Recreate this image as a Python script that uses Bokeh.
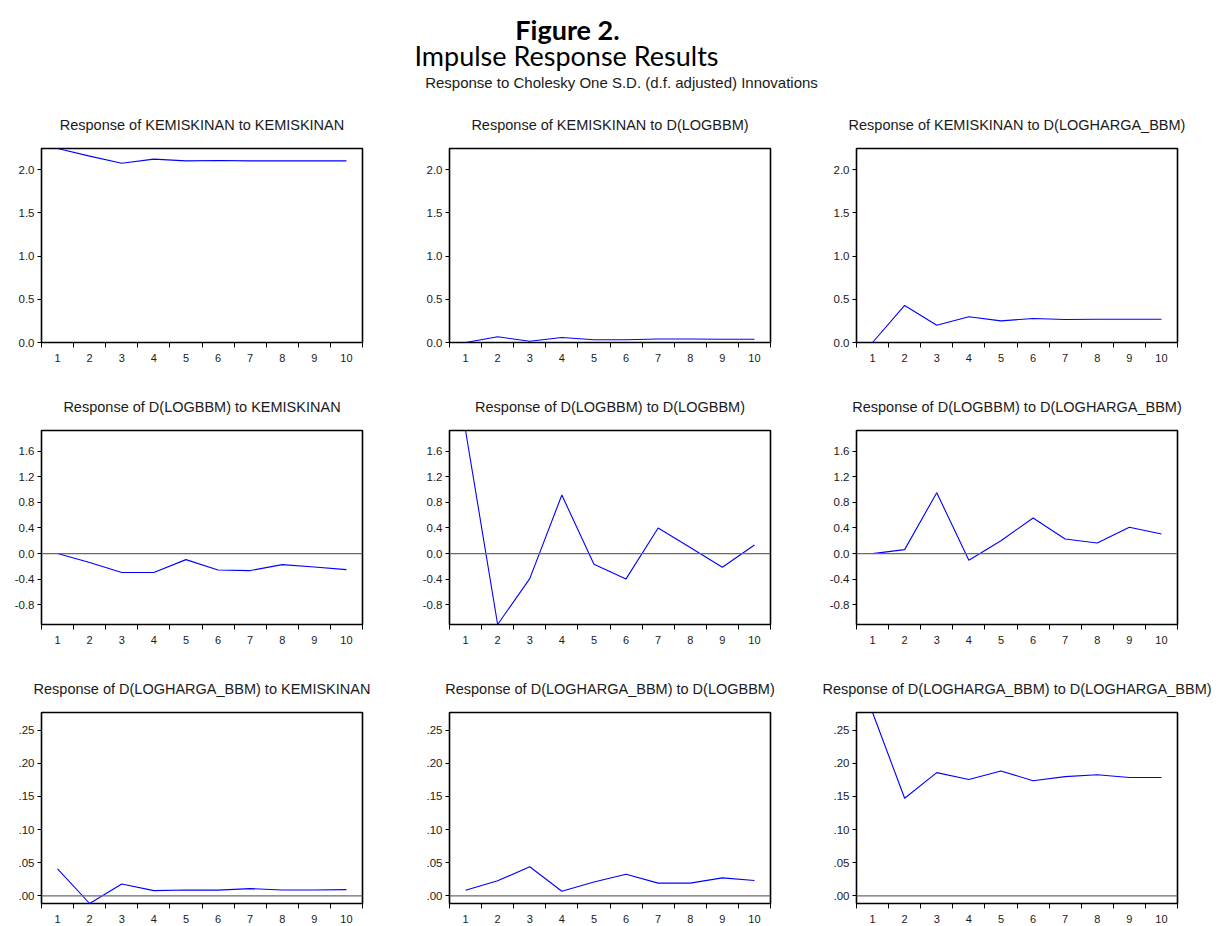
from bokeh.plotting import figure
from bokeh.models import Range1d, FixedTicker, Span, Label, LinearAxis
from bokeh.layouts import column, row
from bokeh.embed import file_html
from bokeh.resources import INLINE

periods = list(range(1, 11))

# Row 1: response of KEMISKINAN
kem_to_kem = [2.243, 2.155, 2.073, 2.12, 2.10, 2.105, 2.10, 2.10, 2.10, 2.10]
kem_to_logbbm = [0.0, 0.066, 0.015, 0.058, 0.031, 0.031, 0.04, 0.04, 0.037, 0.038]
kem_to_harga = [0.0, 0.428, 0.20, 0.297, 0.25, 0.277, 0.266, 0.268, 0.268, 0.268]

# Row 2: response of D(LOGBBM)
logbbm_to_kem = [0.0, -0.14, -0.296, -0.296, -0.094, -0.255, -0.265, -0.172, -0.21, -0.25]
logbbm_to_logbbm = [1.92, -1.106, -0.39, 0.913, -0.167, -0.395, 0.40, 0.095, -0.213, 0.134]
logbbm_to_harga = [0.0, 0.062, 0.95, -0.104, 0.20, 0.555, 0.227, 0.165, 0.41, 0.305]

# Row 3: response of D(LOGHARGA_BBM)
harga_to_kem = [0.041, -0.0114, 0.018, 0.008, 0.009, 0.0088, 0.011, 0.009, 0.009, 0.0095]
harga_to_logbbm = [0.0085, 0.0228, 0.044, 0.007, 0.021, 0.0327, 0.0193, 0.0193, 0.0272, 0.0233]
harga_to_harga = [0.2767, 0.1474, 0.186, 0.1757, 0.1886, 0.1738, 0.18, 0.1827, 0.1787, 0.1787]

titles = [
    ["Response of KEMISKINAN to KEMISKINAN", "Response of KEMISKINAN to D(LOGBBM)",
     "Response of KEMISKINAN to D(LOGHARGA_BBM)"],
    ["Response of D(LOGBBM) to KEMISKINAN", "Response of D(LOGBBM) to D(LOGBBM)",
     "Response of D(LOGBBM) to D(LOGHARGA_BBM)"],
    ["Response of D(LOGHARGA_BBM) to KEMISKINAN", "Response of D(LOGHARGA_BBM) to D(LOGBBM)",
     "Response of D(LOGHARGA_BBM) to D(LOGHARGA_BBM)"],
]
series = [
    [kem_to_kem, kem_to_logbbm, kem_to_harga],
    [logbbm_to_kem, logbbm_to_logbbm, logbbm_to_harga],
    [harga_to_kem, harga_to_logbbm, harga_to_harga],
]
y_ticks = [
    [0.0, 0.5, 1.0, 1.5, 2.0],
    [-0.8, -0.4, 0.0, 0.4, 0.8, 1.2, 1.6],
    [0.0, 0.05, 0.10, 0.15, 0.20, 0.25],
]
y_tick_labels = [
    ["0.0", "0.5", "1.0", "1.5", "2.0"],
    ["-0.8", "-0.4", "0.0", "0.4", "0.8", "1.2", "1.6"],
    [".00", ".05", ".10", ".15", ".20", ".25"],
]
zero_lines = [False, True, True]

main_title = "Figure 2."
sub_title = "Impulse Response Results"
caption = "Response to Cholesky One S.D. (d.f. adjusted) Innovations"

FONT = "Liberation Sans"
TOTAL_W = 1220
FRAME_W = 321
col_widths = [415, 407, 398]
col_left = [41, 34, 34]
col_right = [w - l - FRAME_W for w, l in zip(col_widths, col_left)]
STRIP_H = 36
TOP = 12
FRAME_H = 194
row_bottom = [40, 40, 19]
row_heights = [TOP + FRAME_H + b for b in row_bottom]
HEAD_H = 100


def text_strip(height):
    s = figure(width=TOTAL_W, height=height, x_range=Range1d(0, TOTAL_W),
               y_range=Range1d(0, height), x_axis_type=None, y_axis_type=None,
               output_backend="svg", toolbar_location=None, tools="",
               min_border=0, title=None)
    s.outline_line_color = None
    s.background_fill_color = "white"
    s.border_fill_color = "white"
    return s


def make_panel(r, c):
    vals = series[r]
    lo = min(min(v) for v in vals)
    hi = max(max(v) for v in vals)
    p = figure(width=col_widths[c], height=row_heights[r],
               x_range=Range1d(0.5, 10.5), y_range=Range1d(lo, hi),
               x_axis_type=None, y_axis_type=None, title=None,
               output_backend="svg", toolbar_location=None, tools="",
               min_border_left=col_left[c], min_border_right=col_right[c],
               min_border_top=TOP, min_border_bottom=row_bottom[r])
    p.background_fill_color = "white"
    p.border_fill_color = "white"
    p.outline_line_color = "black"
    p.outline_line_width = 1.6
    p.outline_line_alpha = 1.0

    boundaries = [k + 0.5 for k in range(0, 11)]
    xa = LinearAxis(ticker=FixedTicker(ticks=periods, minor_ticks=boundaries))
    xa.axis_line_color = None
    xa.major_tick_out = 0
    xa.major_tick_in = 0
    xa.minor_tick_out = 5
    xa.minor_tick_in = 0
    xa.minor_tick_line_color = "black"
    xa.major_label_standoff = 6
    xa.major_label_text_font = FONT
    xa.major_label_text_font_size = "11px"
    xa.major_label_text_color = "#1a1a1a"
    p.add_layout(xa, "below")

    ya = LinearAxis(ticker=FixedTicker(ticks=y_ticks[r], minor_ticks=[]))
    ya.major_label_overrides = {t: s for t, s in zip(y_ticks[r], y_tick_labels[r])}
    ya.axis_line_color = None
    ya.major_tick_out = 4
    ya.major_tick_in = 0
    ya.major_tick_line_color = "black"
    ya.minor_tick_out = 0
    ya.major_label_standoff = 3
    ya.major_label_text_font = FONT
    ya.major_label_text_font_size = "11.5px"
    ya.major_label_text_color = "#1a1a1a"
    p.add_layout(ya, "left")

    if zero_lines[r]:
        p.add_layout(Span(location=0, dimension="width", line_color="#6a6a6a", line_width=1.3))

    p.line(periods, vals[c], line_color="#0000ff", line_width=1.1)
    return p


head = text_strip(HEAD_H)
head.add_layout(Label(x=567, y=HEAD_H - 29, text=main_title, text_font="Lato",
                      text_font_style="bold", text_font_size="27px", text_align="center",
                      text_baseline="alphabetic", text_color="black"))
head.add_layout(Label(x=566, y=HEAD_H - 55, text=sub_title, text_font="Lato",
                      text_font_size="27px", text_align="center",
                      text_baseline="alphabetic", text_color="black"))
head.add_layout(Label(x=621, y=HEAD_H - 82, text=caption, text_font=FONT,
                      text_font_size="15px", text_align="center",
                      text_baseline="alphabetic", text_color="#1a1a1a"))

children = [head]
for r in range(3):
    strip = text_strip(STRIP_H)
    x0 = 0
    for c in range(3):
        cx = x0 + col_left[c] + FRAME_W / 2
        strip.add_layout(Label(x=cx, y=11.5, text=titles[r][c], text_font=FONT,
                               text_font_size="14.5px", text_align="center",
                               text_baseline="alphabetic", text_color="#1a1a1a"))
        x0 += col_widths[c]
    children.append(strip)
    children.append(row(*[make_panel(r, c) for c in range(3)]))

layout = column(*children)

open("out.html", "w").write(file_html(layout, INLINE))
